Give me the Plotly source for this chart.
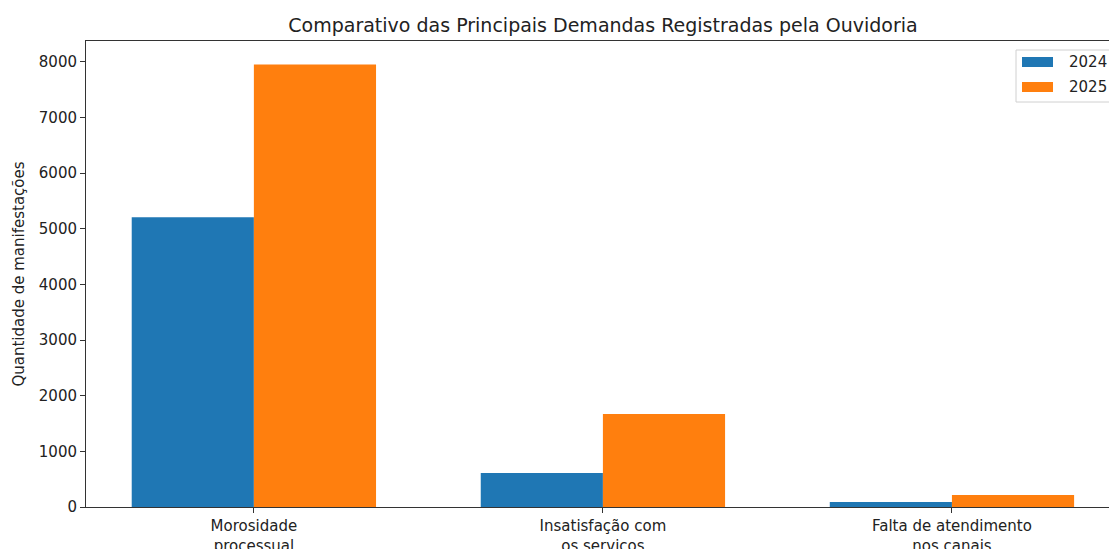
import plotly.graph_objects as go

categories = ["Morosidade<br>processual", "Insatisfação com<br>os serviços", "Falta de atendimento<br>nos canais"]
years = ["2024", "2025"]
values_2024 = [5210, 611, 90]
values_2025 = [7955, 1670, 215]
colors = ["#1f77b4", "#ff7f0e"]

FONT = "DejaVu Sans"
W, H = 1109, 549
L, T, B = 86, 41, 42
PW, PH = W - L, H - T - B

def px(x):
    return (x - L) / PW

def py(y):
    return (H - B - y) / PH

fig = go.Figure()
for name, vals, col in zip(years, [values_2024, values_2025], colors):
    fig.add_trace(go.Bar(x=categories, y=vals, name=name, marker=dict(color=col, line=dict(width=0)),
                         showlegend=False, hoverinfo="skip"))

fig.update_layout(
    width=W, height=H,
    margin=dict(l=L, r=0, t=T, b=B, autoexpand=False),
    paper_bgcolor="white", plot_bgcolor="white",
    barmode="group", bargap=0.3, bargroupgap=0,
    font=dict(family=FONT, size=15, color="#222"),
    title=dict(text="Comparativo das Principais Demandas Registradas pela Ouvidoria",
               x=px(603), xref="paper", xanchor="center", y=1 - 25 / H, yanchor="middle",
               font=dict(size=19, color="#222")),
)
fig.update_xaxes(range=[-0.481, 2.45], showline=True, linecolor="#333", linewidth=1, mirror=True,
                 ticks="outside", ticklen=5, tickcolor="#333", showgrid=False, zeroline=False,
                 automargin=False, tickfont=dict(size=15, color="#222"))
fig.update_yaxes(range=[0, 8377], dtick=1000, showline=True, linecolor="#333", linewidth=1,
                 ticks="outside", ticklen=5, tickcolor="#333", showgrid=False, zeroline=False,
                 automargin=False, tickfont=dict(size=15, color="#222"),
                 title=dict(text="Quantidade de manifestações", standoff=10, font=dict(size=15, color="#222")))

# legend drawn as in the reference (upper right, partly cut off at the edge)
fig.add_shape(type="rect", xref="paper", yref="paper", x0=px(1016), x1=px(1130),
              y0=py(102), y1=py(50), line=dict(color="#d0d0d0", width=1), fillcolor="rgba(255,255,255,0.8)")
for i, (name, col) in enumerate(zip(years, colors)):
    yc = [62, 87][i]
    fig.add_shape(type="rect", xref="paper", yref="paper", x0=px(1022), x1=px(1053),
                  y0=py(yc + 5), y1=py(yc - 5), line=dict(width=0), fillcolor=col)
    fig.add_annotation(xref="paper", yref="paper", x=px(1067), y=py(yc), text=name,
                       showarrow=False, xanchor="left", yanchor="middle", font=dict(size=15, color="#222"))

fig.write_html("out.html", config={"displayModeBar": False},
               post_script="document.body.style.margin='0';document.body.style.overflow='hidden';")
